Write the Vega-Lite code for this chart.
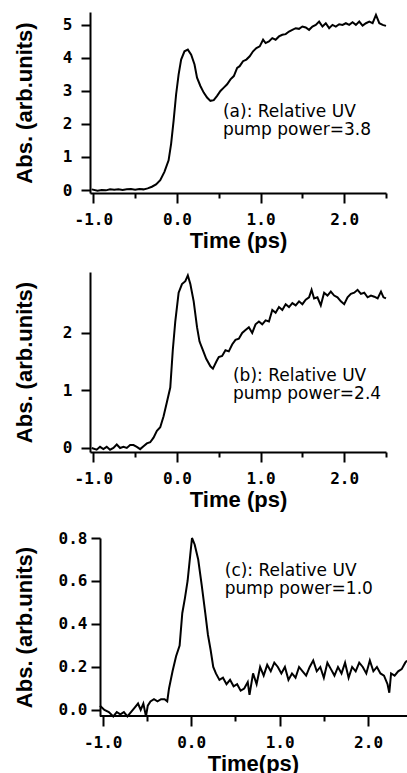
{
  "$schema": "https://vega.github.io/schema/vega-lite/v6.json",
  "padding": {"left": 13, "top": 10, "right": 0, "bottom": 0},
  "background": "white",
  "spacing": 20,
  "config": {
    "view": {"stroke": null},
    "axis": {
      "grid": false,
      "domainColor": "black",
      "domainWidth": 2,
      "tickColor": "black",
      "tickWidth": 2,
      "labelColor": "black",
      "labelFont": "DejaVu Sans Mono",
      "labelFontWeight": "bold",
      "labelFontSize": 16,
      "titleColor": "black",
      "titleFont": "Liberation Sans",
      "titleFontWeight": "bold",
      "titleFontSize": 22,
      "labelFlush": false,
      "labelOverlap": false
    },
    "line": {"color": "black", "strokeWidth": 2, "clip": true},
    "rule": {"color": "black", "strokeWidth": 2},
    "text": {"font": "DejaVu Sans", "fontSize": 17, "color": "black", "align": "left", "baseline": "alphabetic", "lineHeight": 18}
  },
  "datasets": {
    "a": [
      {"t": -1.02, "v": 0.02}, {"t": -0.95, "v": -0.02}, {"t": -0.9, "v": 0.0}, {"t": -0.85, "v": -0.01}, {"t": -0.8, "v": 0.02}, {"t": -0.75, "v": 0.01}, {"t": -0.7, "v": 0.02}, {"t": -0.65, "v": 0.0}, {"t": -0.6, "v": 0.02}, {"t": -0.55, "v": 0.03}, {"t": -0.5, "v": 0.01}, {"t": -0.45, "v": 0.03}, {"t": -0.4, "v": 0.02}, {"t": -0.35, "v": 0.05}, {"t": -0.3, "v": 0.1}, {"t": -0.25, "v": 0.17}, {"t": -0.2, "v": 0.3}, {"t": -0.15, "v": 0.55}, {"t": -0.1, "v": 0.9}, {"t": -0.07, "v": 1.4}, {"t": -0.04, "v": 2.1}, {"t": -0.01, "v": 2.9}, {"t": 0.02, "v": 3.5}, {"t": 0.05, "v": 3.95}, {"t": 0.09, "v": 4.2}, {"t": 0.13, "v": 4.25}, {"t": 0.17, "v": 4.1}, {"t": 0.21, "v": 3.8}, {"t": 0.24, "v": 3.4}, {"t": 0.28, "v": 3.15}, {"t": 0.32, "v": 2.95}, {"t": 0.36, "v": 2.8}, {"t": 0.4, "v": 2.7}, {"t": 0.44, "v": 2.72}, {"t": 0.48, "v": 2.85}, {"t": 0.52, "v": 3.0}, {"t": 0.56, "v": 3.1}, {"t": 0.6, "v": 3.2}, {"t": 0.64, "v": 3.35}, {"t": 0.68, "v": 3.45}, {"t": 0.72, "v": 3.7}, {"t": 0.75, "v": 3.75}, {"t": 0.79, "v": 3.9}, {"t": 0.83, "v": 3.95}, {"t": 0.87, "v": 4.05}, {"t": 0.91, "v": 4.2}, {"t": 0.95, "v": 4.3}, {"t": 0.99, "v": 4.35}, {"t": 1.03, "v": 4.55}, {"t": 1.06, "v": 4.45}, {"t": 1.1, "v": 4.5}, {"t": 1.14, "v": 4.6}, {"t": 1.18, "v": 4.55}, {"t": 1.22, "v": 4.65}, {"t": 1.26, "v": 4.7}, {"t": 1.3, "v": 4.72}, {"t": 1.34, "v": 4.8}, {"t": 1.38, "v": 4.85}, {"t": 1.42, "v": 4.9}, {"t": 1.46, "v": 4.88}, {"t": 1.5, "v": 4.95}, {"t": 1.54, "v": 4.92}, {"t": 1.58, "v": 4.85}, {"t": 1.62, "v": 4.95}, {"t": 1.66, "v": 5.0}, {"t": 1.7, "v": 5.1}, {"t": 1.74, "v": 4.95}, {"t": 1.78, "v": 5.05}, {"t": 1.82, "v": 4.9}, {"t": 1.86, "v": 5.0}, {"t": 1.9, "v": 4.95}, {"t": 1.94, "v": 5.02}, {"t": 1.98, "v": 5.0}, {"t": 2.02, "v": 5.05}, {"t": 2.06, "v": 5.0}, {"t": 2.1, "v": 5.08}, {"t": 2.14, "v": 5.0}, {"t": 2.18, "v": 5.1}, {"t": 2.22, "v": 4.98}, {"t": 2.26, "v": 5.05}, {"t": 2.3, "v": 5.1}, {"t": 2.34, "v": 5.05}, {"t": 2.38, "v": 5.3}, {"t": 2.42, "v": 5.05}, {"t": 2.46, "v": 5.0}, {"t": 2.5, "v": 4.97}
    ],
    "b": [
      {"t": -1.02, "v": 0.0}, {"t": -0.96, "v": -0.03}, {"t": -0.92, "v": 0.02}, {"t": -0.88, "v": -0.02}, {"t": -0.84, "v": 0.02}, {"t": -0.8, "v": -0.03}, {"t": -0.76, "v": 0.0}, {"t": -0.72, "v": 0.06}, {"t": -0.68, "v": 0.0}, {"t": -0.64, "v": 0.02}, {"t": -0.6, "v": 0.0}, {"t": -0.56, "v": 0.05}, {"t": -0.52, "v": 0.05}, {"t": -0.48, "v": 0.02}, {"t": -0.44, "v": -0.02}, {"t": -0.4, "v": 0.03}, {"t": -0.36, "v": 0.08}, {"t": -0.32, "v": 0.1}, {"t": -0.28, "v": 0.18}, {"t": -0.24, "v": 0.3}, {"t": -0.2, "v": 0.36}, {"t": -0.16, "v": 0.55}, {"t": -0.12, "v": 0.8}, {"t": -0.08, "v": 1.05}, {"t": -0.05, "v": 1.7}, {"t": -0.02, "v": 2.2}, {"t": 0.02, "v": 2.7}, {"t": 0.06, "v": 2.85}, {"t": 0.1, "v": 2.9}, {"t": 0.13, "v": 3.0}, {"t": 0.16, "v": 2.85}, {"t": 0.2, "v": 2.55}, {"t": 0.24, "v": 2.1}, {"t": 0.27, "v": 1.85}, {"t": 0.31, "v": 1.7}, {"t": 0.35, "v": 1.55}, {"t": 0.4, "v": 1.42}, {"t": 0.43, "v": 1.38}, {"t": 0.47, "v": 1.5}, {"t": 0.5, "v": 1.58}, {"t": 0.54, "v": 1.6}, {"t": 0.58, "v": 1.7}, {"t": 0.62, "v": 1.68}, {"t": 0.66, "v": 1.8}, {"t": 0.7, "v": 1.88}, {"t": 0.74, "v": 1.9}, {"t": 0.78, "v": 2.0}, {"t": 0.82, "v": 2.05}, {"t": 0.86, "v": 2.1}, {"t": 0.9, "v": 2.0}, {"t": 0.94, "v": 2.15}, {"t": 0.98, "v": 2.2}, {"t": 1.02, "v": 2.15}, {"t": 1.06, "v": 2.22}, {"t": 1.1, "v": 2.2}, {"t": 1.14, "v": 2.4}, {"t": 1.18, "v": 2.35}, {"t": 1.22, "v": 2.45}, {"t": 1.26, "v": 2.4}, {"t": 1.3, "v": 2.5}, {"t": 1.34, "v": 2.45}, {"t": 1.38, "v": 2.52}, {"t": 1.42, "v": 2.48}, {"t": 1.46, "v": 2.55}, {"t": 1.5, "v": 2.5}, {"t": 1.54, "v": 2.58}, {"t": 1.58, "v": 2.62}, {"t": 1.61, "v": 2.75}, {"t": 1.64, "v": 2.6}, {"t": 1.68, "v": 2.62}, {"t": 1.72, "v": 2.48}, {"t": 1.76, "v": 2.7}, {"t": 1.8, "v": 2.65}, {"t": 1.84, "v": 2.72}, {"t": 1.88, "v": 2.65}, {"t": 1.92, "v": 2.62}, {"t": 1.96, "v": 2.55}, {"t": 2.0, "v": 2.5}, {"t": 2.04, "v": 2.62}, {"t": 2.08, "v": 2.68}, {"t": 2.12, "v": 2.7}, {"t": 2.16, "v": 2.75}, {"t": 2.2, "v": 2.68}, {"t": 2.24, "v": 2.7}, {"t": 2.28, "v": 2.62}, {"t": 2.32, "v": 2.65}, {"t": 2.36, "v": 2.63}, {"t": 2.4, "v": 2.6}, {"t": 2.44, "v": 2.72}, {"t": 2.47, "v": 2.62}, {"t": 2.5, "v": 2.6}
    ],
    "c": [
      {"t": -1.03, "v": 0.02}, {"t": -0.98, "v": 0.0}, {"t": -0.93, "v": -0.01}, {"t": -0.88, "v": -0.03}, {"t": -0.84, "v": -0.01}, {"t": -0.8, "v": -0.02}, {"t": -0.76, "v": -0.01}, {"t": -0.72, "v": -0.03}, {"t": -0.68, "v": -0.01}, {"t": -0.64, "v": 0.01}, {"t": -0.6, "v": 0.03}, {"t": -0.57, "v": 0.0}, {"t": -0.54, "v": 0.03}, {"t": -0.51, "v": -0.03}, {"t": -0.49, "v": 0.02}, {"t": -0.46, "v": 0.04}, {"t": -0.42, "v": 0.05}, {"t": -0.38, "v": 0.04}, {"t": -0.34, "v": 0.05}, {"t": -0.3, "v": 0.05}, {"t": -0.27, "v": 0.04}, {"t": -0.25, "v": 0.1}, {"t": -0.21, "v": 0.18}, {"t": -0.17, "v": 0.25}, {"t": -0.13, "v": 0.3}, {"t": -0.1, "v": 0.45}, {"t": -0.07, "v": 0.52}, {"t": -0.04, "v": 0.6}, {"t": -0.01, "v": 0.72}, {"t": 0.01, "v": 0.8}, {"t": 0.04, "v": 0.77}, {"t": 0.08, "v": 0.7}, {"t": 0.12, "v": 0.58}, {"t": 0.16, "v": 0.45}, {"t": 0.19, "v": 0.35}, {"t": 0.22, "v": 0.28}, {"t": 0.25, "v": 0.2}, {"t": 0.28, "v": 0.17}, {"t": 0.32, "v": 0.14}, {"t": 0.36, "v": 0.15}, {"t": 0.4, "v": 0.12}, {"t": 0.44, "v": 0.14}, {"t": 0.48, "v": 0.11}, {"t": 0.52, "v": 0.12}, {"t": 0.56, "v": 0.09}, {"t": 0.6, "v": 0.1}, {"t": 0.64, "v": 0.13}, {"t": 0.66, "v": 0.07}, {"t": 0.7, "v": 0.17}, {"t": 0.74, "v": 0.12}, {"t": 0.78, "v": 0.2}, {"t": 0.82, "v": 0.16}, {"t": 0.86, "v": 0.21}, {"t": 0.9, "v": 0.18}, {"t": 0.94, "v": 0.22}, {"t": 0.98, "v": 0.2}, {"t": 1.02, "v": 0.17}, {"t": 1.06, "v": 0.2}, {"t": 1.1, "v": 0.14}, {"t": 1.14, "v": 0.17}, {"t": 1.18, "v": 0.15}, {"t": 1.22, "v": 0.2}, {"t": 1.26, "v": 0.18}, {"t": 1.3, "v": 0.16}, {"t": 1.34, "v": 0.2}, {"t": 1.38, "v": 0.23}, {"t": 1.42, "v": 0.18}, {"t": 1.46, "v": 0.2}, {"t": 1.5, "v": 0.15}, {"t": 1.54, "v": 0.22}, {"t": 1.58, "v": 0.19}, {"t": 1.62, "v": 0.16}, {"t": 1.66, "v": 0.2}, {"t": 1.7, "v": 0.17}, {"t": 1.74, "v": 0.22}, {"t": 1.78, "v": 0.15}, {"t": 1.82, "v": 0.2}, {"t": 1.86, "v": 0.18}, {"t": 1.9, "v": 0.22}, {"t": 1.94, "v": 0.2}, {"t": 1.98, "v": 0.17}, {"t": 2.02, "v": 0.23}, {"t": 2.06, "v": 0.18}, {"t": 2.1, "v": 0.2}, {"t": 2.14, "v": 0.17}, {"t": 2.18, "v": 0.16}, {"t": 2.22, "v": 0.12}, {"t": 2.24, "v": 0.08}, {"t": 2.26, "v": 0.17}, {"t": 2.3, "v": 0.16}, {"t": 2.34, "v": 0.18}, {"t": 2.38, "v": 0.19}, {"t": 2.42, "v": 0.22}, {"t": 2.44, "v": 0.23}
    ],
    "note": [{}]
  },
  "vconcat": [
    {
      "width": 296,
      "height": 181,
      "layer": [
        {
          "data": {"name": "a"},
          "mark": {"type": "line"},
          "encoding": {
            "x": {"field": "t", "type": "quantitative", "scale": {"domain": [-1.04, 2.5], "nice": false, "zero": false},
              "axis": {"title": "Time (ps)", "values": [-1, -0.5, 0, 0.5, 1, 1.5, 2, 2.5],
                "tickSize": {"condition": {"test": "abs(datum.value - round(datum.value)) < 0.01", "value": 10}, "value": 5},
                "labelExpr": "abs(datum.value - round(datum.value)) < 0.01 ? (datum.value < 0 ? '-' + format(abs(datum.value), '.1f') : format(datum.value, '.1f')) : ''",
                "labelPadding": 8, "titlePadding": 3}},
            "y": {"field": "v", "type": "quantitative", "scale": {"domain": [-0.09, 5.39], "nice": false, "zero": false},
              "axis": {"title": "Abs. (arb.units)", "values": [0, 1, 2, 3, 4, 5], "format": "d", "tickSize": 9, "labelPadding": 9, "titlePadding": 26}}
          }
        },
        {
          "data": {"name": "note"},
          "mark": {"type": "text"},
          "encoding": {
            "x": {"datum": 0.55, "type": "quantitative", "scale": {"domain": [-1.04, 2.5], "nice": false, "zero": false},
              "axis": {"title": "Time (ps)", "values": [-1, -0.5, 0, 0.5, 1, 1.5, 2, 2.5],
                "tickSize": {"condition": {"test": "abs(datum.value - round(datum.value)) < 0.01", "value": 10}, "value": 5},
                "labelExpr": "abs(datum.value - round(datum.value)) < 0.01 ? (datum.value < 0 ? '-' + format(abs(datum.value), '.1f') : format(datum.value, '.1f')) : ''",
                "labelPadding": 8, "titlePadding": 3}},
            "y": {"datum": 2.21, "type": "quantitative", "scale": {"domain": [-0.09, 5.39], "nice": false, "zero": false},
              "axis": {"title": "Abs. (arb.units)", "values": [0, 1, 2, 3, 4, 5], "format": "d", "tickSize": 9, "labelPadding": 9, "titlePadding": 26}},
            "text": {"value": ["(a): Relative UV", "pump power=3.8"]}
          }
        }
      ]
    },
    {
      "width": 296,
      "height": 180,
      "layer": [
        {
          "data": {"name": "b"},
          "mark": {"type": "line"},
          "encoding": {
            "x": {"field": "t", "type": "quantitative", "scale": {"domain": [-1.04, 2.5], "nice": false, "zero": false},
              "axis": {"title": "Time (ps)", "values": [-1, -0.5, 0, 0.5, 1, 1.5, 2, 2.5],
                "tickSize": {"condition": {"test": "abs(datum.value - round(datum.value)) < 0.01", "value": 10}, "value": 5},
                "labelExpr": "abs(datum.value - round(datum.value)) < 0.01 ? (datum.value < 0 ? '-' + format(abs(datum.value), '.1f') : format(datum.value, '.1f')) : ''",
                "labelPadding": 8, "titlePadding": 3}},
            "y": {"field": "v", "type": "quantitative", "scale": {"domain": [-0.07, 3.06], "nice": false, "zero": false},
              "axis": {"title": "Abs. (arb.units)", "values": [0, 1, 2], "format": "d", "tickSize": 9, "labelPadding": 9, "titlePadding": 26}}
          }
        },
        {
          "data": {"name": "note"},
          "mark": {"type": "text"},
          "encoding": {
            "x": {"datum": 0.67, "type": "quantitative", "scale": {"domain": [-1.04, 2.5], "nice": false, "zero": false},
              "axis": {"title": "Time (ps)", "values": [-1, -0.5, 0, 0.5, 1, 1.5, 2, 2.5],
                "tickSize": {"condition": {"test": "abs(datum.value - round(datum.value)) < 0.01", "value": 10}, "value": 5},
                "labelExpr": "abs(datum.value - round(datum.value)) < 0.01 ? (datum.value < 0 ? '-' + format(abs(datum.value), '.1f') : format(datum.value, '.1f')) : ''",
                "labelPadding": 8, "titlePadding": 3}},
            "y": {"datum": 1.17, "type": "quantitative", "scale": {"domain": [-0.07, 3.06], "nice": false, "zero": false},
              "axis": {"title": "Abs. (arb.units)", "values": [0, 1, 2], "format": "d", "tickSize": 9, "labelPadding": 9, "titlePadding": 26}},
            "text": {"value": ["(b): Relative UV", "pump power=2.4"]}
          }
        }
      ]
    },
    {
      "width": 317,
      "height": 178,
      "layer": [
        {
          "data": {"name": "c"},
          "mark": {"type": "line"},
          "encoding": {
            "x": {"field": "t", "type": "quantitative", "scale": {"domain": [-1.143, 2.44], "nice": false, "zero": false},
              "axis": {"title": "Time(ps)", "values": [-1, -0.5, 0, 0.5, 1, 1.5, 2], "domain": false,
                "tickSize": {"condition": {"test": "abs(datum.value - round(datum.value)) < 0.01", "value": 10}, "value": 5},
                "labelExpr": "abs(datum.value - round(datum.value)) < 0.01 ? (datum.value < 0 ? '-' + format(abs(datum.value), '.1f') : format(datum.value, '.1f')) : ''",
                "labelPadding": 8, "titlePadding": 3, "titleX": 163}},
            "y": {"field": "v", "type": "quantitative", "scale": {"domain": [-0.028, 0.8], "nice": false, "zero": false},
              "axis": {"title": "Abs. (arb.units)", "values": [0, 0.2, 0.4, 0.6, 0.8], "format": ".1f", "tickSize": 9, "labelPadding": 4, "titlePadding": 22, "offset": -10}}
          }
        },
        {
          "data": {"name": "note"},
          "mark": {"type": "rule"},
          "encoding": {
            "x": {"datum": -1.03, "type": "quantitative", "scale": {"domain": [-1.143, 2.44], "nice": false, "zero": false},
              "axis": {"title": "Time(ps)", "values": [-1, -0.5, 0, 0.5, 1, 1.5, 2], "domain": false,
                "tickSize": {"condition": {"test": "abs(datum.value - round(datum.value)) < 0.01", "value": 10}, "value": 5},
                "labelExpr": "abs(datum.value - round(datum.value)) < 0.01 ? (datum.value < 0 ? '-' + format(abs(datum.value), '.1f') : format(datum.value, '.1f')) : ''",
                "labelPadding": 8, "titlePadding": 3, "titleX": 163}},
            "x2": {"datum": 2.44},
            "y": {"datum": -0.028, "type": "quantitative", "scale": {"domain": [-0.028, 0.8], "nice": false, "zero": false},
              "axis": {"title": "Abs. (arb.units)", "values": [0, 0.2, 0.4, 0.6, 0.8], "format": ".1f", "tickSize": 9, "labelPadding": 4, "titlePadding": 22, "offset": -10}}
          }
        },
        {
          "data": {"name": "note"},
          "mark": {"type": "text"},
          "encoding": {
            "x": {"datum": 0.38, "type": "quantitative", "scale": {"domain": [-1.143, 2.44], "nice": false, "zero": false},
              "axis": {"title": "Time(ps)", "values": [-1, -0.5, 0, 0.5, 1, 1.5, 2], "domain": false,
                "tickSize": {"condition": {"test": "abs(datum.value - round(datum.value)) < 0.01", "value": 10}, "value": 5},
                "labelExpr": "abs(datum.value - round(datum.value)) < 0.01 ? (datum.value < 0 ? '-' + format(abs(datum.value), '.1f') : format(datum.value, '.1f')) : ''",
                "labelPadding": 8, "titlePadding": 3, "titleX": 163}},
            "y": {"datum": 0.624, "type": "quantitative", "scale": {"domain": [-0.028, 0.8], "nice": false, "zero": false},
              "axis": {"title": "Abs. (arb.units)", "values": [0, 0.2, 0.4, 0.6, 0.8], "format": ".1f", "tickSize": 9, "labelPadding": 4, "titlePadding": 22, "offset": -10}},
            "text": {"value": ["(c): Relative UV", "pump power=1.0"]}
          }
        }
      ]
    }
  ]
}
